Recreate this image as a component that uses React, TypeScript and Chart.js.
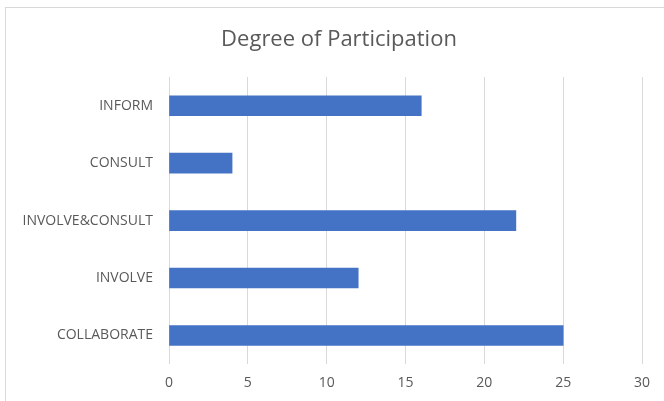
import React, { useEffect, useRef } from "react";
import { Chart, registerables } from "chart.js";

Chart.register(...registerables);

const categories = ["INFORM", "CONSULT", "INVOLVE&CONSULT", "INVOLVE", "COLLABORATE"];
const values = [16, 4, 22, 12, 25];
const titleText = "Degree of Participation";
const xMin = 0;
const xMax = 30;
const xStep = 5;

const framePlugin = {
  id: "frame",
  beforeDraw(chart: any) {
    const ctx = chart.ctx;
    ctx.save();
    ctx.fillStyle = "#ffffff";
    ctx.fillRect(0, 0, chart.width, chart.height);
    ctx.strokeStyle = "#d9d9d9";
    ctx.lineWidth = 1;
    ctx.strokeRect(5.5, 7.5, 800, 600);
    ctx.restore();
  },
  afterDraw(chart: any) {
    const ctx = chart.ctx;
    ctx.save();
    ctx.fillStyle = "#595959";
    ctx.font = "22px 'Open Sans', sans-serif";
    ctx.textAlign = "center";
    ctx.textBaseline = "middle";
    ctx.fillText(titleText, 339, 40);
    ctx.restore();
  },
};

export default function App() {
  const ref = useRef<HTMLCanvasElement>(null);
  useEffect(() => {
    document.body.style.margin = "0";
    const chart = new Chart(ref.current!, {
      type: "bar",
      data: {
        labels: categories,
        datasets: [
          {
            data: values,
            backgroundColor: "#4472C4",
            barThickness: 20,
          },
        ],
      },
      options: {
        indexAxis: "y",
        animation: false,
        responsive: false,
        layout: { padding: { left: 0, right: 22, top: 77, bottom: 0 } },
        plugins: {
          legend: { display: false },
          tooltip: { enabled: false },
          title: { display: false },
        },
        scales: {
          x: {
            min: xMin,
            max: xMax,
            ticks: {
              stepSize: xStep,
              color: "#595959",
              font: { family: "'Open Sans', sans-serif", size: 14 },
              padding: 10,
            },
            grid: { color: "#d9d9d9", drawTicks: false },
            border: { display: false },
          },
          y: {
            ticks: {
              color: "#595959",
              font: { family: "'Open Sans', sans-serif", size: 14 },
              padding: 16,
            },
            grid: { display: false, drawTicks: false },
            border: { display: false },
            afterFit(scale: any) {
              scale.width = 169;
            },
          },
        },
      },
      plugins: [framePlugin],
    });
    return () => chart.destroy();
  }, []);
  return <canvas ref={ref} width={664} height={401} style={{ display: "block" }} />;
}
